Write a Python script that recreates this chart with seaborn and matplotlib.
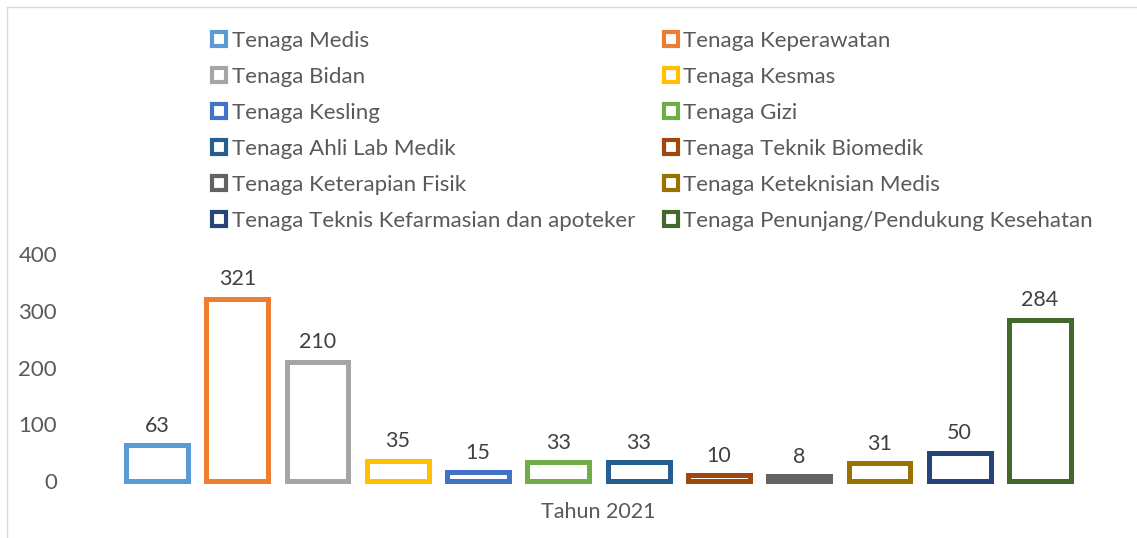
import pandas as pd
import seaborn as sns
import matplotlib.pyplot as plt
from matplotlib.lines import Line2D

# data
categories = ["Tenaga Medis", "Tenaga Keperawatan", "Tenaga Bidan", "Tenaga Kesmas",
              "Tenaga Kesling", "Tenaga Gizi", "Tenaga Ahli Lab Medik",
              "Tenaga Teknik Biomedik", "Tenaga Keterapian Fisik",
              "Tenaga Keteknisian Medis", "Tenaga Teknis Kefarmasian dan apoteker",
              "Tenaga Penunjang/Pendukung Kesehatan"]
values = [63, 321, 210, 35, 15, 33, 33, 10, 8, 31, 50, 284]
year_label = ["Tahun 2021"]
colors = ["#5B9BD5", "#ED7D31", "#A5A5A5", "#FFC000", "#4472C4", "#70AD47",
          "#255E91", "#9E480E", "#636363", "#997300", "#264478", "#43682B"]

df = pd.DataFrame({"tahun": year_label * len(categories),
                   "jenis": categories, "jumlah": values})

sns.set_style("white")
plt.rcParams['font.family'] = ['Lato', 'DejaVu Sans']

fig = plt.figure(figsize=(11.37, 5.38), dpi=100)
ax = fig.add_axes([75 / 1137, 57 / 538, 1047 / 1137, 227 / 538])

sns.barplot(data=df, x="tahun", y="jumlah", hue="jenis", hue_order=categories,
            palette=colors, width=0.92, gap=0.23, ax=ax, legend=False)

for patch, c in zip(ax.patches, colors):
    patch.set_facecolor("white")
    patch.set_edgecolor(c)
    patch.set_linewidth(3.6)
    patch.set_clip_on(False)

for cont in ax.containers:
    ax.bar_label(cont, padding=7, fontsize=15.5, color="#404040")

ax.set_xlim(-0.5, 0.5)
ax.set_ylim(0, 400)
ax.set_yticks([0, 100, 200, 300, 400])
ax.tick_params(axis="y", length=0, pad=13, labelsize=16, labelcolor="#595959")
ax.tick_params(axis="x", length=0, pad=15, labelsize=15.5, labelcolor="#595959")
ax.set_xlabel("")
ax.set_ylabel("")
sns.despine(ax=ax, left=True, bottom=True)

# legend in two columns, row-major like the original
handles = [Line2D([], [], linestyle="none", marker="s", markersize=10,
                  markerfacecolor="white", markeredgecolor=c, markeredgewidth=3)
           for c in colors]
order = list(range(0, 12, 2)) + list(range(1, 12, 2))
leg = fig.legend([handles[i] for i in order], [categories[i] for i in order],
                 ncol=2, loc="upper left", bbox_to_anchor=(203 / 1137, 1 - 22 / 538),
                 frameon=False, fontsize=16, handlelength=0.65, handletextpad=0.25,
                 columnspacing=1.27, labelspacing=0.72, borderaxespad=0)
for t in leg.get_texts():
    t.set_color("#595959")

# chart frame
fig.add_artist(Line2D([7 / 1137, 7 / 1137], [0, 1 - 7 / 538], color="#D9D9D9", lw=1))
fig.add_artist(Line2D([7 / 1137, 1], [1 - 7 / 538, 1 - 7 / 538], color="#D9D9D9", lw=1))

fig.savefig("out.png", dpi=100)
